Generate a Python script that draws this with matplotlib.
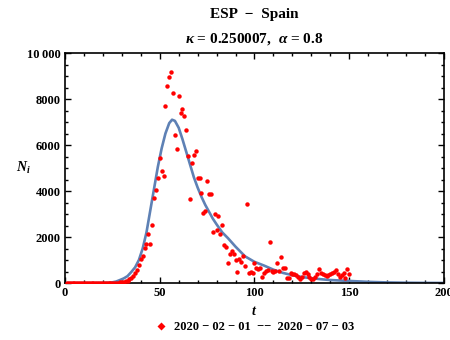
import numpy as np
import matplotlib
matplotlib.use("Agg")
import matplotlib.pyplot as plt
from matplotlib.lines import Line2D
from matplotlib.ticker import MultipleLocator, FuncFormatter

plt.rcParams["font.family"] = ["Liberation Serif", "DejaVu Serif"]
plt.rcParams["font.weight"] = "bold"
plt.rcParams["mathtext.fontset"] = "custom"
plt.rcParams["mathtext.rm"] = "Liberation Serif:bold"
plt.rcParams["mathtext.it"] = "Liberation Serif:italic:bold"
plt.rcParams["mathtext.bf"] = "Liberation Serif:bold"

# daily new cases, day index from 2020-02-01
days = np.arange(1, 151)
cases = [
    0, 0, 0, 0, 0, 0, 0, 0, 1, 0,
    0, 0, 0, 0, 0, 0, 0, 0, 0, 0,
    0, 0, 0, 2, 4, 6, 10, 15, 25, 40,
    55, 75, 100, 160, 230, 304, 422, 565, 796, 1030,
    1187, 1522, 1709, 2130, 1709, 2535, 3709, 4043, 4578, 5448,
    4870, 4665, 7709, 8578, 8970, 9187, 8248, 6448, 5839, 8143,
    7404, 7578, 7274, 6665, 5535, 3665, 5230, 5565, 5752, 4550,
    4580, 3930, 3060, 3145, 4450, 3855, 3855, 2230, 2985, 2304,
    2913, 2143, 2535, 1652, 1552, 883, 1274, 1404, 1248, 987,
    491, 1043, 913, 1174, 739, 3450, 422, 478, 448, 883,
    665, 596, 665, 274, 422, 522, 565, 1796, 520, 491,
    520, 883, 535, 1143, 665, 665, 230, 204, 420, 391,
    391, 348, 246, 174, 246, 420, 493, 377, 275, 174,
    174, 246, 391, 609, 420, 391, 333, 304, 348, 391,
    449, 493, 565, 391, 246, 348, 420, 230, 596, 404,
]

# fitted curve
fit_t = [0, 15, 20, 23, 25, 27, 29, 31, 33, 35, 37, 39, 41, 43, 45, 47, 49, 51,
         53, 55, 56.5, 58, 60, 62, 64, 66, 68, 70, 72, 74, 76, 78, 80, 83, 86,
         90, 95, 100, 105, 110, 115, 120, 125, 130, 135, 140, 145, 150, 160,
         170, 180, 190, 200]
fit_n = [0, 0, 3, 12, 30, 65, 130, 200, 300, 480, 680, 1000, 1500, 2200, 3150,
         4100, 5050, 5850, 6500, 6950, 7100, 7050, 6750, 6250, 5700, 5150, 4600,
         4150, 3750, 3400, 3100, 2800, 2550, 2200, 1950, 1580, 1160, 920, 760,
         580, 440, 340, 260, 210, 165, 130, 110, 90, 50, 25, 12, 5, 2]

fig = plt.figure(figsize=(4.5, 3.4), dpi=100)
ax = fig.add_axes([0.1444, 0.1676, 0.8423, 0.6765])

ax.plot(fit_t, fit_n, color="#5E81B5", lw=1.9, zorder=2)
ax.plot(days, cases, "o", color="red", ms=3.2, mec="none", zorder=3)

ax.set_xlim(0, 200)
ax.set_ylim(0, 10000)
ax.xaxis.set_major_locator(MultipleLocator(50))
ax.xaxis.set_minor_locator(MultipleLocator(10))
ax.yaxis.set_major_locator(MultipleLocator(2000))
ax.yaxis.set_minor_locator(MultipleLocator(500))
ax.yaxis.set_major_formatter(FuncFormatter(
    lambda v, p: "10\u2009000" if v >= 10000 else f"{int(v)}"))

ax.tick_params(which="both", direction="in", top=True, right=True,
               labelsize=9, width=1, pad=3)
ax.tick_params(which="major", length=4)
ax.tick_params(which="minor", length=2)
for s in ax.spines.values():
    s.set_linewidth(1.2)

ax.set_xlabel("$t$", fontsize=10, labelpad=4)
ax.set_ylabel("$N_i$", fontsize=10, rotation=0, va="center", ha="center")
ax.yaxis.set_label_coords(-0.11, 0.5)

fig.text(0.565, 0.957, "ESP  \u2212  Spain", ha="center", va="center",
         fontsize=11, weight="bold")
fig.text(0.565, 0.885, r"$\kappa$ = 0.250007,  $\alpha$ = 0.8", ha="center",
         va="center", fontsize=11, weight="bold")

handle = Line2D([], [], ls="none", marker="D", color="red", ms=4, mec="none")
fig.legend([handle], ["2020 \u2212 02 \u2212 01  \u2212\u2212  2020 \u2212 07 \u2212 03"],
           loc="center", bbox_to_anchor=(0.565, 0.038), frameon=False,
           fontsize=9, handlelength=1, handletextpad=0.5)

fig.savefig("out.png", dpi=100)
